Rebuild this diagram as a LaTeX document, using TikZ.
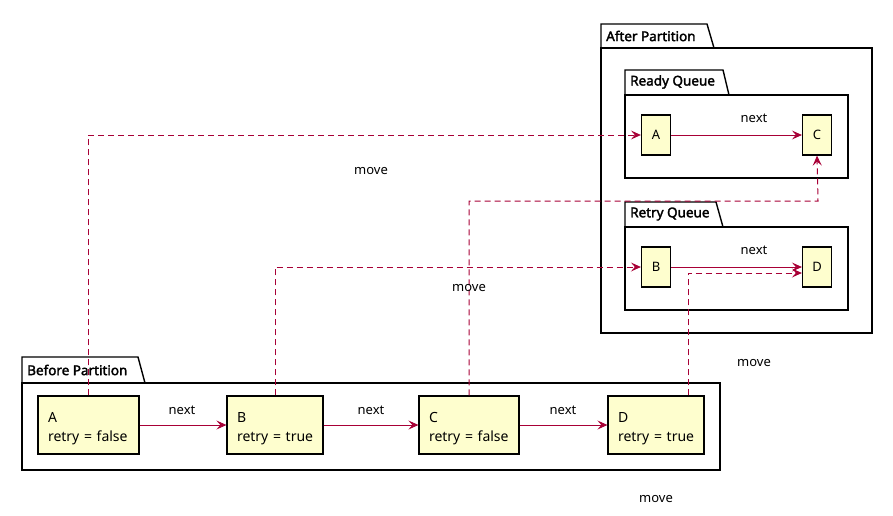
\documentclass[tikz,border=0pt]{standalone}
\usepackage{fontspec}
\setmainfont{Noto Sans}
\newfontfamily\titlefont{Noto Sans}[FakeBold=2.2]
\usetikzlibrary{arrows.meta,calc}
\definecolor{boxfill}{HTML}{FEFECE}
\definecolor{arr}{HTML}{A80036}
\tikzset{
  pkg/.style={draw=black, line width=1.4pt},
  pkgtitle/.style={anchor=west, inner sep=0pt, font=\fontsize{13.5}{16}\titlefont},
  smallbox/.style={draw=black, fill=boxfill, line width=1.2pt, minimum width=29pt, minimum height=40pt, inner sep=0pt, font=\fontsize{13}{16}\selectfont},
  bigbox/.style={draw=black, fill=boxfill, line width=1.2pt, minimum height=58pt, align=left, inner xsep=10pt, font=\fontsize{14}{19}\selectfont},
  nextarrow/.style={draw=arr, line width=0.9pt, -{Stealth[length=10pt,width=9pt,inset=4pt]}},
  movearrow/.style={draw=arr, line width=1pt, dash pattern=on 6pt off 4pt, -{Stealth[length=10pt,width=9pt,inset=4pt]}},
  lbl/.style={inner sep=0pt, font=\fontsize{13}{16}\selectfont},
}
\newcommand{\upstrut}{\rule{0pt}{17pt}}
\begin{document}
\begin{tikzpicture}[x=1pt,y=-1pt]
\useasboundingbox (0,0) rectangle (893,516);
% After Partition
\draw[pkg] (601,48) -- (601,24) -- (707,24) -- (714,48) -- cycle;
\draw[pkg] (601,48) rectangle (872,333);
\node[pkgtitle] (tAfter) at (606,36) {After Partition};
% Ready Queue
\draw[pkg] (625,95) -- (625,70) -- (723,70) -- (729,95) -- cycle;
\draw[pkg] (625,95) rectangle (848,178);
\node[pkgtitle] (tReady) at (630,82) {Ready Queue};
% Retry Queue
\draw[pkg] (625,227) -- (625,202) -- (716,202) -- (723,227) -- cycle;
\draw[pkg] (625,227) rectangle (848,310);
\node[pkgtitle] (tRetry) at (630,214) {Retry Queue};
% Before Partition
\draw[pkg] (22,383) -- (22,357) -- (138,357) -- (145,383) -- cycle;
\draw[pkg] (22,383) rectangle (720,470);
\node[pkgtitle] (tBefore) at (27,370) {Before Partition};

% small boxes
\node[smallbox] (rA) at (656,135) {A};
\node[smallbox] (rC) at (817,135) {C};
\node[smallbox] (qB) at (656,267) {B};
\node[smallbox] (qD) at (817,267) {D};

% big boxes
\node[bigbox, text width=81pt] (bA) at (88.5,425) {\upstrut A\\\mbox{retry = false}};
\node[bigbox, text width=76pt] (bB) at (275,425) {\upstrut B\\\mbox{retry = true}};
\node[bigbox, text width=80pt] (bC) at (469,425) {\upstrut C\\\mbox{retry = false}};
\node[bigbox, text width=76pt] (bD) at (656,425) {\upstrut D\\\mbox{retry = true}};

% next arrows
\draw[nextarrow] (rA) -- (rC);
\draw[nextarrow] (qB) -- (qD);
\draw[nextarrow] (bA) -- (bB);
\draw[nextarrow] (bB) -- (bC);
\draw[nextarrow] (bC) -- (bD);
\node[lbl] (n1) at (754,118) {next};
\node[lbl] (n2) at (754,250) {next};
\node[lbl] (n3) at (182,410) {next};
\node[lbl] (n4) at (371,410) {next};
\node[lbl] (n5) at (563,410) {next};

% move arrows
\coordinate (k3) at (818,201);
\coordinate (k4) at (688,273);
\draw[movearrow] (bA.north) |- (rA.west);
\draw[movearrow] (bB.north) |- (qB.west);
\draw[movearrow] (bC.north) |- (k3) -- (rC.south);
\draw[movearrow] (bD.north -| k4) -- (k4) -- (qD.west |- k4);
\node[lbl] (m1) at (371,171) {move};
\node[lbl] (m2) at (469,288) {move};
\node[lbl] (m3) at (754,363) {move};
\node[lbl] (m4) at (656,499) {move};
\end{tikzpicture}
\end{document}
